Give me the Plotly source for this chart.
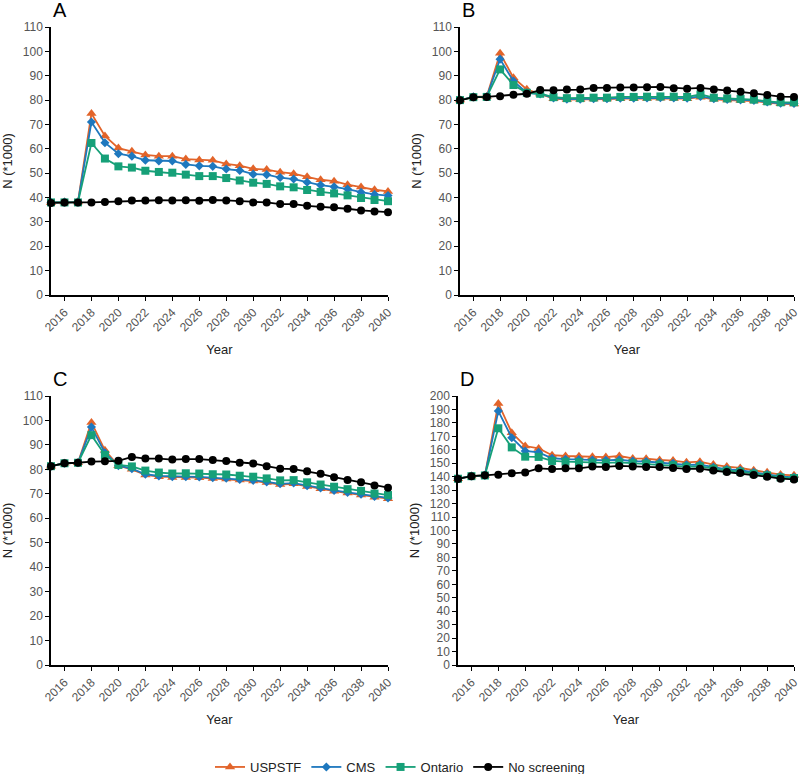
import plotly.graph_objects as go

years = list(range(2015, 2041))

# Panel A
A_uspstf = [38, 38.2, 38.2, 74.5, 65.3, 60.3, 59.0, 57.5, 57.0, 57.0, 55.8, 55.4, 55.3, 53.8, 53.1, 51.8, 51.5, 50.4, 49.8, 48.5, 47.3, 46.7, 45.3, 44.3, 43.2, 42.5]
A_cms     = [38, 38.1, 38.1, 71.0, 62.5, 58.0, 57.0, 55.3, 55.0, 55.0, 53.6, 53.0, 52.8, 51.7, 51.1, 49.6, 49.4, 48.2, 47.6, 46.3, 45.1, 44.4, 43.5, 42.2, 41.3, 40.8]
A_ontario = [38, 38.0, 38.0, 62.4, 56.0, 52.8, 52.3, 51.0, 50.5, 50.2, 49.4, 48.8, 48.8, 48.0, 47.0, 46.1, 45.6, 44.6, 44.2, 43.1, 42.3, 41.7, 40.9, 39.8, 39.0, 38.5]
A_none    = [37.8, 38.0, 38.0, 38.0, 38.2, 38.5, 38.8, 38.8, 38.9, 38.8, 38.9, 38.7, 39.0, 38.8, 38.5, 38.0, 38.0, 37.3, 37.3, 36.6, 36.2, 36.0, 35.4, 34.7, 34.3, 34.0]

# Panel B
B_uspstf = [80.0, 81.3, 81.5, 99.2, 89.2, 84.4, 82.5, 80.6, 80.2, 80.2, 80.4, 80.4, 80.6, 80.6, 80.7, 80.8, 80.7, 80.6, 81.2, 80.3, 80.0, 79.8, 79.6, 79.0, 78.5, 78.4]
B_cms     = [80.0, 81.3, 81.4, 96.8, 87.8, 83.0, 82.5, 80.9, 80.4, 80.4, 80.6, 80.6, 80.8, 80.8, 80.9, 81.0, 80.9, 80.8, 81.5, 80.6, 80.3, 80.1, 79.9, 79.2, 78.7, 78.6]
B_ontario = [80.0, 81.2, 81.3, 92.6, 86.2, 83.0, 82.6, 81.2, 80.8, 80.8, 81.0, 81.0, 81.3, 81.3, 81.4, 81.5, 81.4, 81.3, 82.3, 81.0, 80.7, 80.5, 80.2, 79.5, 79.1, 79.1]
B_none    = [79.9, 81.2, 81.3, 81.6, 82.2, 82.6, 84.1, 84.0, 84.3, 84.3, 85.0, 85.0, 85.2, 85.2, 85.3, 85.4, 84.9, 84.7, 85.0, 84.3, 83.9, 83.4, 82.8, 82.1, 81.4, 81.3]

# Panel C
C_uspstf = [81.3, 82.5, 82.7, 99.2, 87.8, 81.5, 80.0, 77.7, 77.0, 76.7, 76.7, 76.6, 76.3, 76.1, 75.6, 75.2, 74.6, 73.8, 74.1, 73.0, 72.1, 71.1, 70.3, 69.5, 68.6, 68.0]
C_cms     = [81.3, 82.5, 82.7, 97.3, 86.8, 81.5, 80.3, 78.0, 77.3, 77.0, 77.0, 76.9, 76.6, 76.4, 75.9, 75.5, 74.9, 74.1, 74.4, 73.3, 72.4, 71.4, 70.6, 69.8, 68.9, 68.3]
C_ontario = [81.3, 82.5, 82.7, 94.0, 85.9, 81.8, 81.2, 79.5, 78.7, 78.3, 78.4, 78.3, 78.0, 77.9, 77.4, 77.0, 76.3, 75.5, 75.6, 74.7, 73.8, 72.9, 71.9, 71.2, 70.1, 69.5]
C_none    = [81.3, 82.5, 82.7, 83.2, 83.3, 83.5, 85.1, 84.4, 84.4, 84.0, 84.2, 84.2, 83.8, 83.4, 82.7, 82.4, 81.3, 80.3, 80.1, 79.2, 78.2, 76.8, 75.7, 74.7, 73.4, 72.5]

# Panel D
D_uspstf = [138.5, 140.6, 141.0, 194.5, 172.7, 162.8, 161.0, 156.0, 155.4, 155.2, 154.8, 154.6, 155.4, 153.6, 153.4, 152.4, 152.0, 150.7, 151.2, 149.0, 147.5, 146.5, 144.8, 143.3, 141.6, 141.0]
D_cms     = [138.5, 140.5, 141.0, 188.8, 169.0, 159.1, 158.1, 153.7, 153.0, 152.8, 152.4, 152.2, 152.6, 151.6, 151.3, 150.5, 150.0, 148.8, 149.0, 147.0, 145.5, 144.8, 143.2, 141.8, 140.2, 139.5]
D_ontario = [138.5, 140.4, 140.9, 176.0, 161.8, 154.9, 154.7, 151.7, 151.2, 150.8, 150.5, 150.3, 150.6, 150.0, 149.7, 149.0, 148.5, 147.5, 147.7, 146.0, 144.6, 143.8, 142.3, 141.0, 139.5, 139.0]
D_none    = [138.3, 140.4, 141.0, 141.5, 142.5, 143.2, 146.2, 145.7, 146.2, 146.2, 147.5, 147.3, 148.0, 147.6, 147.3, 147.2, 146.5, 145.8, 146.0, 144.6, 143.5, 142.7, 141.3, 140.0, 138.5, 138.0]

series_names = ["USPSTF", "CMS", "Ontario", "No screening"]
colors = ["#E2642A", "#1E78BE", "#16A078", "#000000"]
symbols = ["triangle-up", "diamond", "square", "circle"]
msizes = [9, 7, 8, 8]

panels = [
    ("A", [A_uspstf, A_cms, A_ontario, A_none], 110),
    ("B", [B_uspstf, B_cms, B_ontario, B_none], 110),
    ("C", [C_uspstf, C_cms, C_ontario, C_none], 110),
    ("D", [D_uspstf, D_cms, D_ontario, D_none], 200),
]

W, H = 800, 774
# plot-area boxes in pixels (left, right, top, bottom)
boxes = [(51, 388, 27, 295), (460, 794, 27, 295), (51, 388, 396, 665), (458, 794, 396, 665)]

fig = go.Figure()
font_family = "Liberation Sans, Arial, sans-serif"
annotations = []
for i, (letter, data, ymax) in enumerate(panels):
    n = i + 1
    xa = "x" if n == 1 else f"x{n}"
    ya = "y" if n == 1 else f"y{n}"
    for j, vals in enumerate(data):
        fig.add_trace(go.Scatter(
            x=years, y=vals, mode="lines+markers", name=series_names[j],
            line=dict(color=colors[j], width=1.8),
            marker=dict(symbol=symbols[j], size=msizes[j], color=colors[j]),
            xaxis=xa, yaxis=ya, showlegend=(i == 0), legendgroup=series_names[j],
            cliponaxis=False,
        ))
    l, r, t, b = boxes[i]
    axis_common = dict(showline=True, linecolor="black", linewidth=1.5, ticks="outside",
                       tickcolor="black", ticklen=4, tickwidth=1, showgrid=False, zeroline=False,
                       automargin=False, ticklabeloverflow="allow",
                       tickfont=dict(size=12, color="#555555", family=font_family))
    fig.layout[f"xaxis{'' if n == 1 else n}"] = dict(
        domain=[l / W, r / W], anchor=ya, range=[2015, 2040], tick0=2016, dtick=2,
        tickangle=-45, title=dict(text="Year", font=dict(size=13, color="#222222", family=font_family), standoff=12),
        **axis_common)
    fig.layout[f"yaxis{'' if n == 1 else n}"] = dict(
        domain=[1 - b / H, 1 - t / H], anchor=xa, range=[0, ymax], dtick=10,
        title=dict(text="N (*1000)", font=dict(size=13, color="#222222", family=font_family), standoff=7),
        **axis_common)
    annotations.append(dict(text=letter, x=l / W, y=1 - (t - 17) / H, xref="paper", yref="paper",
                            xanchor="left", yanchor="middle", showarrow=False,
                            font=dict(size=20, color="black", family=font_family)))

fig.update_layout(
    width=W, height=H, margin=dict(l=0, r=0, t=0, b=0, autoexpand=False),
    plot_bgcolor="white", paper_bgcolor="white",
    font=dict(family=font_family),
    annotations=annotations,
    legend=dict(orientation="h", x=0.5, xanchor="center", y=1 - 767 / H, yanchor="middle",
                font=dict(size=13, color="#222222", family=font_family), itemwidth=30),
)

# remove the default 8px page margin so the figure fills the window exactly
fig.write_html("out.html", config={"displayModeBar": False},
               post_script="document.body.style.margin='0';document.body.style.overflow='hidden';")
